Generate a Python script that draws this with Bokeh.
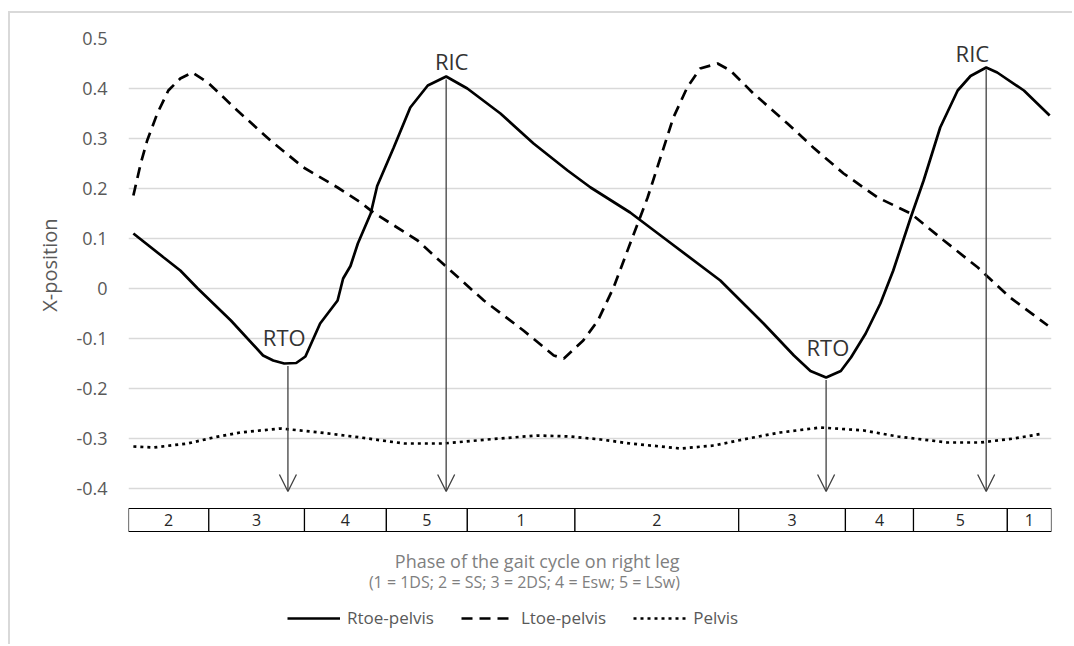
from bokeh.plotting import figure
from bokeh.models import (Range1d, FixedTicker, CustomJSTickFormatter, ColumnDataSource,
                          Arrow, OpenHead, Legend, LegendItem, Title)
from bokeh.core.properties import value
from bokeh.embed import file_html
from bokeh.resources import INLINE

# ---- data (x = % of the recorded window) ----
rtoe_x = [0.2, 3.5, 5.3, 7.2, 10.8, 14.3, 15.4, 16.6, 17.9, 18.9, 20.5, 22.4, 23.0, 23.8,
          24.6, 26.0, 26.7, 28.5, 30.3, 32.2, 34.2, 36.5, 40.1, 43.7, 47.4, 49.9, 54.2, 57.8,
          64.0, 68.7, 72.0, 73.8, 75.5, 77.1, 78.2, 79.8, 81.4, 82.8, 84.7, 86.1, 87.9, 89.8,
          91.2, 92.9, 94.1, 97.0, 99.8]
rtoe_y = [0.110, 0.062, 0.036, 0.000, -0.064, -0.134, -0.144, -0.150, -0.149, -0.136, -0.070,
          -0.024, 0.020, 0.045, 0.090, 0.150, 0.205, 0.282, 0.362, 0.406, 0.424, 0.400, 0.350,
          0.290, 0.236, 0.202, 0.152, 0.102, 0.016, -0.070, -0.134, -0.165, -0.178, -0.165,
          -0.138, -0.090, -0.030, 0.036, 0.142, 0.216, 0.322, 0.396, 0.425, 0.442, 0.432,
          0.396, 0.346]

ltoe_x = [0.2, 1.0, 1.7, 2.8, 4.0, 5.3, 6.6, 8.3, 11.5, 15.1, 18.7, 22.4, 24.9, 26.3, 31.1,
          34.3, 38.3, 42.6, 45.9, 47.0, 49.1, 50.7, 52.4, 54.2, 56.1, 57.5, 58.9, 60.4, 61.8,
          63.7, 65.1, 67.6, 71.3, 74.1, 77.4, 81.1, 84.7, 88.3, 92.0, 95.5, 99.6]
ltoe_y = [0.186, 0.250, 0.296, 0.350, 0.396, 0.420, 0.432, 0.412, 0.356, 0.296, 0.242, 0.202,
          0.172, 0.152, 0.096, 0.042, -0.024, -0.084, -0.134, -0.140, -0.104, -0.064, 0.002,
          0.090, 0.182, 0.262, 0.342, 0.402, 0.440, 0.450, 0.436, 0.390, 0.330, 0.282, 0.230,
          0.182, 0.150, 0.096, 0.042, -0.018, -0.074]

pelvis_x = [0.2, 2.4, 6.1, 8.9, 11.8, 16.2, 20.5, 24.9, 29.6, 33.9, 38.7, 44.1, 47.7, 51.0,
            54.2, 59.7, 63.3, 67.0, 70.5, 74.9, 79.6, 83.3, 88.7, 92.3, 95.9, 99.1]
pelvis_y = [-0.316, -0.318, -0.310, -0.298, -0.288, -0.280, -0.288, -0.298, -0.310, -0.310,
            -0.302, -0.294, -0.296, -0.302, -0.310, -0.320, -0.314, -0.300, -0.288, -0.278,
            -0.284, -0.296, -0.308, -0.308, -0.300, -0.290]

event_names = ["RTO", "RIC", "RTO", "RIC"]
event_x = [17.0, 34.2, 75.5, 92.9]
event_y = [-0.155, 0.418, -0.183, 0.438]
event_label_x = [16.6, 34.8, 75.7, 91.4]
event_label_y = [-0.096, 0.456, -0.116, 0.472]
arrow_end_y = -0.406

phase_edges = [-0.33, 8.4, 18.8, 27.7, 36.5, 48.2, 66.0, 77.6, 85.0, 95.2, 100.0]
phase_labels = ["2", "3", "4", "5", "1", "2", "3", "4", "5", "1"]
phase_top, phase_bottom = -0.440, -0.486

xtitle_lines = ["Phase of the gait cycle on right leg",
                "(1 = 1DS; 2 = SS; 3 = 2DS; 4 = Esw; 5 = LSw)"]
xtitle_x = [44.1, 42.7]
xtitle_y = [-0.544, -0.586]

y_ticks = [-0.4, -0.3, -0.2, -0.1, 0, 0.1, 0.2, 0.3, 0.4, 0.5]

FONT = "Open Sans"
GRAY = "#595959"

# canvas begins at (10, 13) after a 2px light border drawn at x=8 / y=11
p = figure(width=1064, height=633, output_backend="svg", toolbar_location=None,
           x_range=Range1d(phase_edges[0], phase_edges[-1]),
           y_range=Range1d(-0.716, 0.5),
           min_border_left=118, min_border_right=23, min_border_top=25, min_border_bottom=0)
p.margin = (11, 0, 0, 8)
p.styles = {"border-left": "2px solid #d9d9d9", "border-top": "2px solid #d9d9d9"}
p.outline_line_color = None
p.background_fill_color = "white"
p.border_fill_color = "white"

p.xaxis.visible = False
p.xgrid.visible = False
p.yaxis.ticker = FixedTicker(ticks=y_ticks)
p.yaxis.formatter = CustomJSTickFormatter(code="return String(Math.round(tick*10)/10);")
p.yaxis.axis_line_color = None
p.yaxis.major_tick_line_color = None
p.yaxis.minor_tick_line_color = None
p.yaxis.major_label_standoff = 15
p.yaxis.major_label_text_font = FONT
p.yaxis.major_label_text_font_size = "18px"
p.yaxis.major_label_text_color = GRAY
p.ygrid.grid_line_color = "#d9d9d9"
p.ygrid.grid_line_width = 1.5

p.add_layout(Title(text="X-position", align="right", offset=180, text_font=FONT,
                   text_font_size="20px", text_font_style="normal", text_color=GRAY,
                   standoff=22), "left")

# series
r1 = p.line(rtoe_x, rtoe_y, line_color="black", line_width=2.7)
r2 = p.line(ltoe_x, ltoe_y, line_color="black", line_width=2.7, line_dash="11 7")
r3 = p.line(pelvis_x, pelvis_y, line_color="black", line_width=2.7, line_dash="3 4")

# event arrows
asrc = ColumnDataSource(dict(x=event_x, y0=event_y, y1=[arrow_end_y] * len(event_x)))
p.add_layout(Arrow(source=asrc, x_start="x", y_start="y0", x_end="x", y_end="y1",
                   line_color="#404040", line_width=1.3,
                   end=OpenHead(size=17, line_color="#404040", line_width=1.3)))
p.text(x=event_label_x, y=event_label_y, text=event_names, text_font=value(FONT),
       text_font_size="22px", text_color="#333333", text_align="center",
       text_baseline="middle")

# phase boxes
p.quad(left=phase_edges[:-1], right=phase_edges[1:], top=phase_top, bottom=phase_bottom,
       fill_color="white", line_color="black", line_width=1.2)
centers = [(a + b) / 2 for a, b in zip(phase_edges[:-1], phase_edges[1:])]
p.text(x=centers, y=[(phase_top + phase_bottom) / 2] * len(centers), text=phase_labels,
       text_font=value(FONT), text_font_size="16px", text_color="#262626",
       text_align="center", text_baseline="middle")

# x-axis title (two lines)
p.text(x=xtitle_x[:1], y=xtitle_y[:1], text=xtitle_lines[:1], text_font=value(FONT),
       text_font_size="18px", text_color="#7f7f7f", text_align="center",
       text_baseline="middle")
p.text(x=xtitle_x[1:], y=xtitle_y[1:], text=xtitle_lines[1:], text_font=value(FONT),
       text_font_size="16px", text_color="#7f7f7f", text_align="center",
       text_baseline="middle")

legend = Legend(items=[LegendItem(label="Rtoe-pelvis", renderers=[r1]),
                       LegendItem(label="Ltoe-pelvis", renderers=[r2]),
                       LegendItem(label="Pelvis", renderers=[r3])],
                orientation="horizontal", location=(159, 17), padding=0, margin=0,
                spacing=27, label_standoff=7, glyph_width=53, glyph_height=20,
                label_text_font=FONT, label_text_font_size="17px", label_text_color=GRAY,
                background_fill_alpha=0, border_line_color=None)
p.add_layout(legend, "center")

open("out.html", "w").write(file_html(p, INLINE))
